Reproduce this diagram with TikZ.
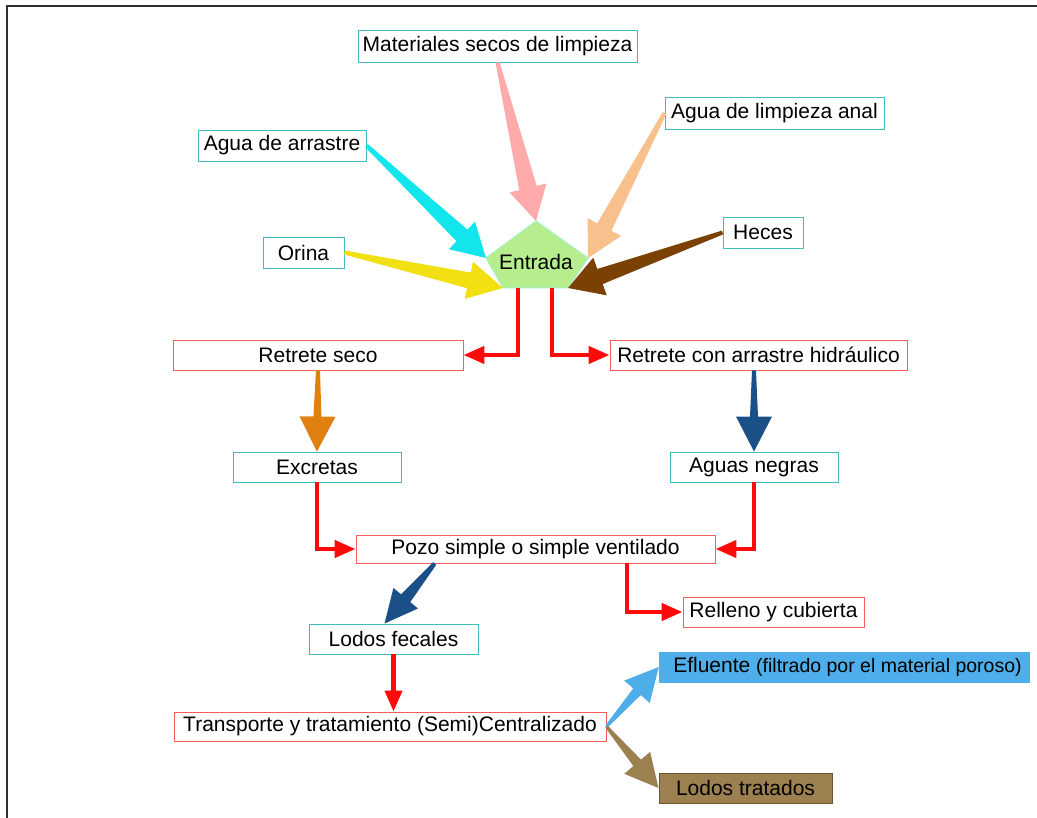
\documentclass[tikz,border=0pt]{standalone}
\usepackage{fontspec}
\setmainfont{Liberation Sans}
\usetikzlibrary{calc,arrows.meta}

\definecolor{boxTeal}{HTML}{3DBDBD}
\definecolor{boxRed}{HTML}{F25C5C}
\definecolor{linkRed}{HTML}{FF0A0A}
\definecolor{frameGrey}{HTML}{303030}
\definecolor{entryGreen}{HTML}{B6EE8E}
\definecolor{entryEdge}{HTML}{A6F2C6}
\definecolor{flowPink}{HTML}{FFABAB}
\definecolor{flowCyan}{HTML}{12E6EC}
\definecolor{flowPeach}{HTML}{F7C08C}
\definecolor{flowYellow}{HTML}{F2E012}
\definecolor{flowBrown}{HTML}{7A4103}
\definecolor{flowOrange}{HTML}{E08010}
\definecolor{flowNavy}{HTML}{1A4F88}
\definecolor{flowSky}{HTML}{4DAEEA}
\definecolor{flowTan}{HTML}{9C8050}
\definecolor{tanEdge}{HTML}{6B5530}

% tapered block arrow:
% #1 colour, #2 tail, #3 tip, #4 tail half-width, #5 shaft half-width,
% #6 head half-width, #7 head length
\newcommand\fatarrow[7]{%
  \coordinate (fa-base) at ($(#3)!#7!(#2)$);
  \fill[#1] ($(#2)!#4!90:(#3)$) -- ($(fa-base)!#5!90:(#3)$)
    -- ($(fa-base)!#6!90:(#3)$) -- (#3)
    -- ($(fa-base)!#6!-90:(#3)$) -- ($(fa-base)!#5!-90:(#3)$)
    -- ($(#2)!#4!-90:(#3)$) -- cycle;
}

\tikzset{
  lbl/.style={font=\fontsize{21}{25}\selectfont, inner sep=0pt},
  tbox/.style={lbl, draw=boxTeal, line width=0.9pt, fill=white},
  rbox/.style={lbl, draw=boxRed, line width=0.9pt, fill=white},
  redlink/.style={draw=linkRed, line width=4.4pt, line join=miter,
    -{Triangle[length=21pt,width=17pt]}},
}

\begin{document}
\begin{tikzpicture}[x=1pt, y=-1pt]
\useasboundingbox (0,0) rectangle (1037,818);

% outer frame
\draw[frameGrey, line width=1.6pt] (1040,6) -- (7,6) -- (7,821);

% input boxes
\node[tbox, minimum width=279pt, minimum height=32pt] (mat)   at (497.5,46)  {Materiales secos de limpieza};
\node[tbox, minimum width=168pt, minimum height=31pt] (agua)  at (282,145.5) {Agua de arrastre};
\node[tbox, minimum width=219pt, minimum height=32pt] (anal)  at (774.5,113) {Agua de limpieza anal};
\node[tbox, minimum width=81pt,  minimum height=31pt] (orina) at (303.5,252.5) {Orina};
\node[tbox, minimum width=80pt,  minimum height=31pt] (heces) at (763,232.5) {Heces};

% entry pentagon
\coordinate (p-top)   at (536,221);
\coordinate (p-left)  at (486,258);
\coordinate (p-right) at (588,258);
\coordinate (p-bl)    at (503,288);
\coordinate (p-br)    at (568,288);
\filldraw[fill=entryGreen, draw=entryEdge, line width=1pt]
  (p-top) -- (p-right) -- (p-br) -- (p-bl) -- (p-left) -- cycle;
\node[lbl] (entrada) at (536,262) {Entrada};

% process boxes
\node[rbox, minimum width=290pt, minimum height=30pt] (rs)   at (318,355)   {Retrete seco};
\node[rbox, minimum width=297pt, minimum height=30pt] (rca)  at (758.5,355) {Retrete con arrastre hidráulico};
\node[tbox, minimum width=168pt, minimum height=30pt] (ex)   at (317,467)   {Excretas};
\node[tbox, minimum width=168pt, minimum height=30pt] (an)   at (754,467)   {Aguas negras};
\node[rbox, minimum width=359pt, minimum height=28pt] (pozo) at (535.5,549) {Pozo simple o simple ventilado};
\node[rbox, minimum width=181pt, minimum height=30pt] (rel)  at (773.5,612) {Relleno y cubierta};
\node[tbox, minimum width=169pt, minimum height=30pt] (lf)   at (393.5,639) {Lodos fecales};
\node[rbox, minimum width=432pt, minimum height=29pt] (tr)   at (390,726.5) {Transporte y tratamiento (Semi)Centralizado};
\node[lbl, fill=flowSky, minimum width=371pt, minimum height=31pt] (ef) at (844.5,667)
  {\hspace*{6pt}Efluente {\fontsize{19.5}{23}\selectfont(filtrado por el material poroso)}};
\node[lbl, fill=flowTan, draw=tanEdge, line width=1pt, minimum width=173pt, minimum height=30pt] (lt)
  at (745.5,788) {Lodos tratados};

% inflows to the entry
\fatarrow{flowPink}{mat.south}{p-top}{2pt}{9pt}{19pt}{34pt}
\fatarrow{flowCyan}{agua.east}{p-left}{2pt}{8pt}{19pt}{33pt}
\fatarrow{flowYellow}{orina.east}{p-bl}{2pt}{8pt}{19pt}{35pt}
\fatarrow{flowPeach}{anal.west}{p-right}{2pt}{8pt}{19pt}{35pt}
\fatarrow{flowBrown}{heces.west}{p-br}{2pt}{8pt}{20pt}{34pt}

% entry to toilets
\coordinate (e-l) at ($(p-bl)!0.23!(p-br)$);
\coordinate (e-r) at ($(p-bl)!0.75!(p-br)$);
\draw[redlink] (e-l) |- (rs.east);
\draw[redlink] (e-r) |- (rca.west);

% toilet products
\fatarrow{flowOrange}{rs.south}{ex.north}{2pt}{4pt}{18pt}{35pt}
\fatarrow{flowNavy}{rca.south -| an.north}{an.north}{2pt}{4pt}{18pt}{35pt}

% into the pit
\draw[redlink] (ex.south) |- (pozo.west);
\draw[redlink] (an.south) |- (pozo.east);
\coordinate (pz-r) at ($(pozo.south west)!0.755!(pozo.south east)$);
\draw[redlink] (pz-r) |- (rel.west);

% out of the pit
\coordinate (pz-l) at ($(pozo.south west)!0.22!(pozo.south east)$);
\coordinate (lf-in) at ($(lf.north)+(-9,0)$);
\fatarrow{flowNavy}{pz-l}{lf-in}{2pt}{6pt}{16pt}{33pt}
\draw[redlink] (lf.south) -- (lf.south |- tr.north);

% treatment outputs
\fatarrow{flowSky}{tr.east}{ef.west}{1.5pt}{5pt}{17pt}{33pt}
\fatarrow{flowTan}{tr.east}{lt.west}{1.5pt}{5pt}{17pt}{33pt}
\end{tikzpicture}
\end{document}
